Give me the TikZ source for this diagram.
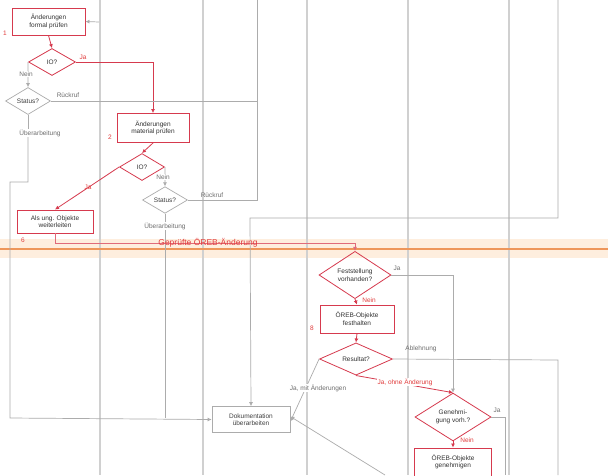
\documentclass[tikz,border=0pt]{standalone}
\usepackage{fontspec}
\setmainfont{Liberation Sans}
\usetikzlibrary{shapes.geometric,arrows.meta}
\definecolor{rb}{RGB}{214,58,78}
\definecolor{gl}{RGB}{172,172,172}
\definecolor{lane}{RGB}{208,208,208}
\definecolor{gt}{RGB}{110,110,110}
\definecolor{rt}{RGB}{225,60,60}
\definecolor{orl}{RGB}{238,150,90}
\definecolor{orb}{RGB}{254,238,222}
\tikzset{
  fs/.style={font=\fontsize{6.5}{7.5}\selectfont},
  redbox/.style={fs,draw=rb,line width=0.9pt,rectangle,align=center,inner sep=1pt,text=black!80},
  graybox/.style={fs,draw=gl,line width=0.7pt,rectangle,align=center,inner sep=1pt,text=black!75},
  reddia/.style={fs,draw=rb,line width=0.8pt,diamond,align=center,inner sep=0pt,text=black!80},
  graydia/.style={fs,draw=gl,line width=0.7pt,diamond,align=center,inner sep=0pt,text=black!75},
  rcon/.style={draw=rb,line width=0.8pt,-{Latex[length=4pt,width=4pt]}},
  gcon/.style={draw=gl,line width=0.7pt,-{Latex[length=4pt,width=4pt]}},
  gline/.style={draw=gl,line width=0.7pt},
  glab/.style={fs,text=gt,inner sep=0.5pt},
  rlab/.style={fs,text=rt,inner sep=0.5pt},
  lanel/.style={draw=lane,line width=1.1pt}
}
\begin{document}
\begin{tikzpicture}[x=1pt,y=-1pt]
\useasboundingbox (0,0) rectangle (608,475);
\fill[white] (0,0) rectangle (608,475);
% orange band
\fill[orb] (0,239) rectangle (608,258);
% lanes
\foreach \lx in {100,203,307,408,509} \draw[lanel] (\lx,0) -- (\lx,475);
\draw[orl,line width=1.4pt] (0,249) -- (608,249);

% nodes
\node[redbox,minimum width=73,minimum height=27] (b1) at (48.5,21.5) {Änderungen\\formal prüfen};
\node[reddia,minimum width=47,minimum height=27] (io1) at (52,62) {IO?};
\node[graydia,minimum width=45,minimum height=27] (st1) at (28,101) {Status?};
\node[glab] (ub1) at (40,133) {Überarbeitung};
\node[redbox,minimum width=72,minimum height=29] (b2) at (153,128) {Änderungen\\material prüfen};
\node[reddia,minimum width=45,minimum height=27] (io2) at (142,167) {IO?};
\node[graydia,minimum width=45,minimum height=22] (st2) at (165,200) {Status?};
\node[glab] (ub2) at (165,226) {Überarbeitung};
\node[redbox,minimum width=76,minimum height=23] (b3) at (55,221.5) {Als ung. Objekte\\weiterleiten};
\node[reddia,minimum width=72,minimum height=40] (fest) at (355,275) {Feststellung\\vorhanden?};
\node[redbox,minimum width=74,minimum height=28] (b4) at (357,319) {ÖREB-Objekte\\festhalten};
\node[reddia,minimum width=73,minimum height=30] (res) at (356,359) {Resultat?};
\node[graybox,minimum width=78,minimum height=26] (dok) at (251,419.5) {Dokumentation\\überarbeiten};
\node[reddia,minimum width=76,minimum height=40] (gen) at (453,417) {Genehmi-\\gung vorh.?};
\node[redbox,minimum width=77,minimum height=28] (b5) at (453,462) {ÖREB-Objekte\\genehmigen};

% coordinates
\coordinate (rk) at (257,0);
\coordinate (tr) at (558,0);
\coordinate (br) at (558,475);
\coordinate (bg) at (505,475);
\coordinate (bd) at (385,475);
\coordinate (in1) at (99,22);

% connectors
\draw[rcon] (b1.south) -- (io1.north);
\draw[rcon] (io1.east) -| (b2.north);
\draw[gcon] (io1.west) -- (st1.north);
\draw[gline] (st1.east) -- (257,101);
\draw[gline] (st1.south) -- (st1.south |- ub1.north);
\draw[gcon] (st1.south |- ub1.south) -- (28,182) -- (10,182) -- (10,418) -- (dok.west);
\draw[gcon] (in1) -- (b1.east);
\draw[rcon] (b2.south) -- (io2.north);
\draw[rcon] (io2.west) -- (b3.north);
\draw[gcon] (io2.east) -- (st2.north);
\draw[gline] (st2.east) -- (257,200) -- (rk);
\draw[gline] (st2.south) -- (ub2.north);
\draw[gline] (ub2.south) -- (165,418);
\draw[rcon,draw=rb!75] (b3.south) -- (55,243) -- (355,243) -- (fest.north);
\draw[gcon] (tr) -- (558,218) -- (250,218) -- (dok.north);
\draw[gcon] (fest.east) -| (gen.north);
\draw[rcon] (fest.south) -- (b4.north);
\draw[rcon] (b4.south) -- (res.north);
\draw[gline] (res.east) -- (558,360) -- (br);
\draw[rcon] (res.south) -- (gen.north);
\draw[gcon] (res.west) -- ([yshift=-2pt]dok.east);
\draw[gcon] (bd) -- ([yshift=3pt]dok.east);
\draw[gline] (gen.east) -- (505,417) -- (bg);
\draw[rcon] (gen.south) -- (b5.north);

% labels
\node[rlab] at (83,57) {Ja};
\node[glab,fill=white] at (26,74) {Nein};
\node[glab] at (68,95) {Rückruf};
\node[rlab] at (88,187) {Ja};
\node[glab,fill=white] at (163,177) {Nein};
\node[glab] at (212,195) {Rückruf};
\node[rlab] at (5,33) {1};
\node[rlab] at (110,137) {2};
\node[rlab] at (23,240) {6};
\node[rlab] at (312,328) {8};
\node[text=rt,inner sep=0.5pt,font=\fontsize{8.5}{9}\selectfont] at (208,243) {Geprüfte ÖREB-Änderung};
\node[glab] at (397,268) {Ja};
\node[rlab] at (369,300) {Nein};
\node[glab] at (421,349) {Ablehnung};
\node[rlab,fill=white] at (405,382) {Ja, ohne Änderung};
\node[glab,fill=white] at (318,388) {Ja, mit Änderungen};
\node[glab] at (497,410) {Ja};
\node[rlab] at (467,440) {Nein};
\end{tikzpicture}
\end{document}
